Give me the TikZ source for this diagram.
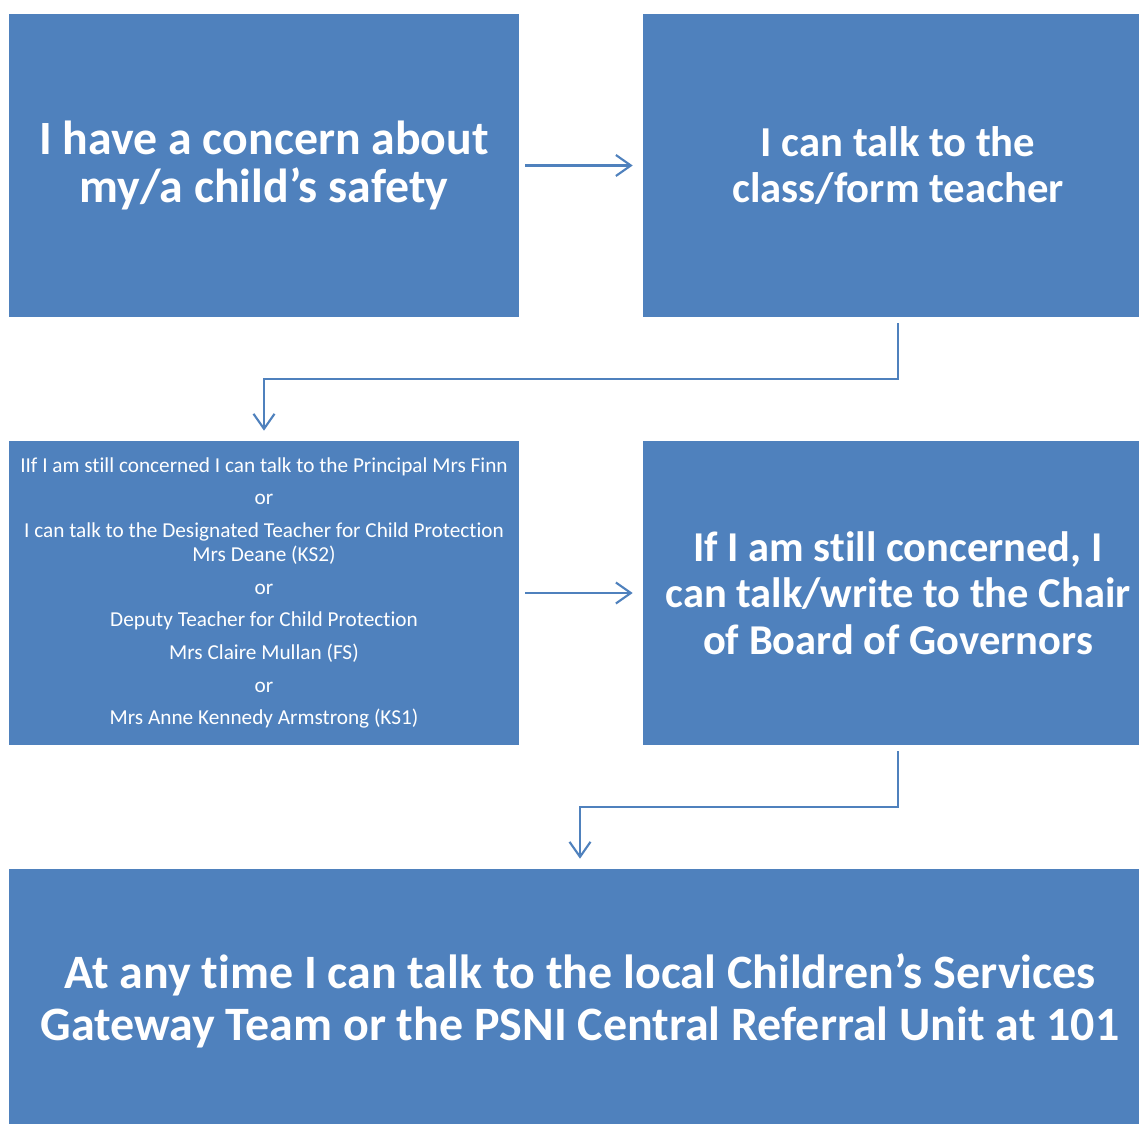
\documentclass[tikz,border=0pt]{standalone}
\usepackage{fontspec}
\setmainfont{Carlito}[Ligatures=NoCommon]
\usetikzlibrary{arrows.meta}
\definecolor{boxblue}{HTML}{4F81BD}
\begin{document}
\begin{tikzpicture}[x=0.02cm,y=-0.02cm,
  box/.style={fill=boxblue,draw=none,inner sep=0pt,align=center,text=white},
  conn/.style={draw=boxblue,line width=1.2pt,-{Straight Barb[length=0.3cm,width=0.42cm,line width=1.2pt]},shorten <=0.12cm,shorten >=0.2cm}]
\useasboundingbox (0,0) rectangle (1139,1124);
\fill[white] (0,0) rectangle (1139,1124);
\node[box,minimum width=10.2cm,minimum height=6.06cm,font=\bfseries\fontsize{27.2}{27.6}\selectfont] (b1) at (264,165.5) {I have a concern about\\my/a child’s safety};
\node[box,minimum width=10.2cm,minimum height=6.06cm,font=\bfseries\fontsize{24.3}{26}\selectfont] (b2) at (898,165.5) {I can talk to the\\class/form teacher};
\node[box,minimum width=10.2cm,minimum height=6.08cm,font=\fontsize{12.1}{13.6}\selectfont] (b3) at (264,593) {IIf I am still concerned I can talk to the Principal Mrs Finn\\[5pt]or\\[5pt]I can talk to the Designated Teacher for Child Protection\\Mrs Deane (KS2)\\[5pt]or\\[5pt]Deputy Teacher for Child Protection\\[5pt]Mrs Claire Mullan (FS)\\[5pt]or\\[5pt]Mrs Anne Kennedy Armstrong (KS1)};
\node[box,minimum width=10.2cm,minimum height=6.08cm,font=\bfseries\fontsize{24.2}{26.6}\selectfont] (b4) at (898,593) {If I am still concerned, I\\can talk/write to the Chair\\of Board of Governors};
\node[box,minimum width=22.84cm,minimum height=5.28cm,font=\bfseries\fontsize{27.3}{29.5}\selectfont] (b5) at (580,1001) {At any time I can talk to the local Children’s Services\\Gateway Team or the PSNI Central Referral Unit at 101};
\draw[conn] (b1.east) -- (b2.west);
\draw[conn] (b3.east) -- (b4.west);
\draw[conn] (b2.south) -- ++(0,62) -| (b3.north);
\draw[conn] (b4.south) -- ++(0,62) -| (b5.north);
\end{tikzpicture}
\end{document}
